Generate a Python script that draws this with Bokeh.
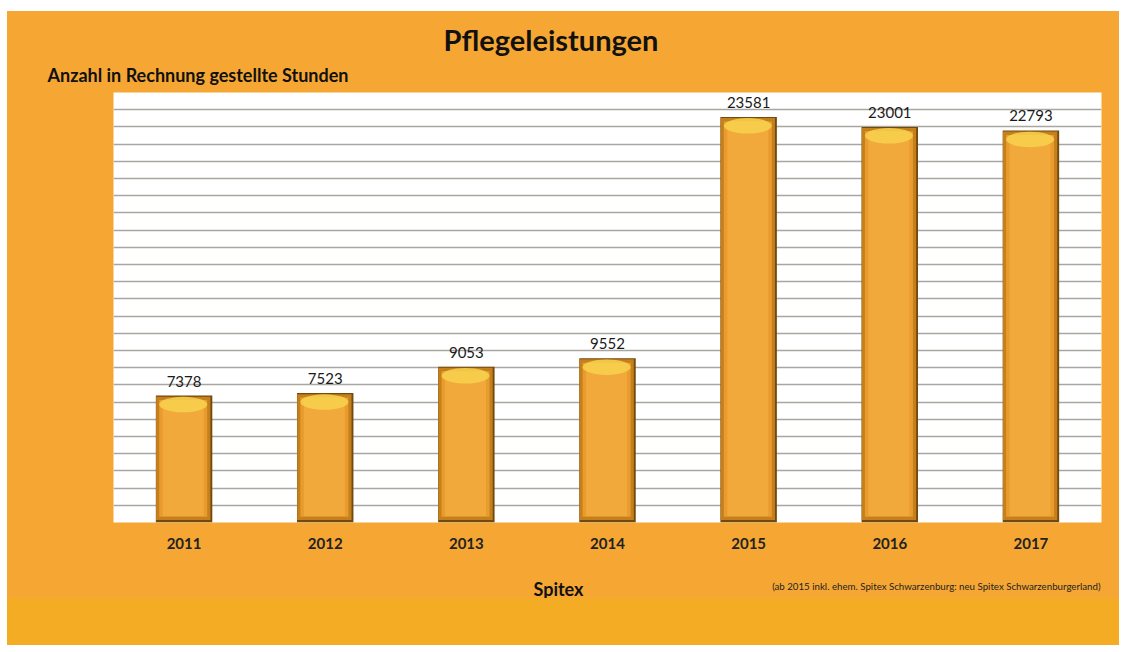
from bokeh.plotting import figure
from bokeh.models import ColumnDataSource, LabelSet, Range1d, FixedTicker, Title, Div
from bokeh.layouts import column
from bokeh.core.properties import value
from bokeh.embed import file_html
from bokeh.resources import INLINE

years = ["2011", "2012", "2013", "2014", "2015", "2016", "2017"]
hours = [7378, 7523, 9053, 9552, 23581, 23001, 22793]
title = "Pflegeleistungen"
subtitle = "Anzahl in Rechnung gestellte Stunden"
x_label = "Spitex"
footnote = "(ab 2015 inkl. ehem. Spitex Schwarzenburg: neu Spitex Schwarzenburgerland)"

FONT = "Lato"
BG = "#F6A733"
BAND = "#F3AC24"
W = 1112
LEFT, RIGHT = 106, 18

# ---- main chart
xs = list(range(len(years)))
src = ColumnDataSource(dict(
    x=xs,
    x_in=[i - 0.006 for i in xs],
    top=hours,
    label=[str(v) for v in hours],
    edge_top=[v - 60 for v in hours],
    body_top=[v - 260 for v in hours],
    hl_y=[v - 520 for v in hours],
))

p = figure(width=W, height=564, output_backend="svg", toolbar_location=None,
           title=title,
           x_range=Range1d(-0.5, len(years) - 0.5), y_range=Range1d(0, 25000),
           min_border_left=LEFT, min_border_right=RIGHT, min_border_top=81, min_border_bottom=53)
p.border_fill_color = BG
p.background_fill_color = "white"
p.outline_line_color = None

p.title.align = "left"
p.title.offset = 330
p.title.text_font = FONT
p.title.text_font_size = "29px"
p.title.text_font_style = "bold"
p.title.text_color = "#111111"
p.title.standoff = -4

sub_title = Title(text=subtitle, align="left", offset=-66, text_font=FONT, text_font_size="18px",
                  text_font_style="bold", text_color="#111111", standoff=14)
p.add_layout(sub_title, "above")

p.yaxis.visible = False
p.ygrid.ticker = FixedTicker(ticks=list(range(0, 25001, 1000)))
p.ygrid.grid_line_color = "#A9A6A2"
p.ygrid.grid_line_width = 1.6
p.xgrid.grid_line_color = None

p.xaxis.ticker = FixedTicker(ticks=xs)
p.xaxis.major_label_overrides = {i: y for i, y in zip(xs, years)}
p.xaxis.axis_line_color = None
p.xaxis.major_tick_line_color = None
p.xaxis.minor_tick_line_color = None
p.xaxis.major_label_text_font = FONT
p.xaxis.major_label_text_font_size = "15px"
p.xaxis.major_label_text_font_style = "bold"
p.xaxis.major_label_text_color = "#222222"
p.xaxis.major_label_standoff = 9

# layered bars for a bevelled look
p.vbar(x="x", top="top", bottom=0, width=0.40, source=src, fill_color="#74490E", line_color=None)
p.vbar(x="x_in", top="edge_top", bottom=140, width=0.385, source=src, fill_color="#C4801C", line_color=None)
p.vbar(x="x_in", top="body_top", bottom=330, width=0.34, source=src, fill_color="#E99C2D", line_color=None)
p.vbar(x="x_in", top="body_top", bottom=380, width=0.29, source=src, fill_color="#F2A93B", line_color=None)
p.ellipse(x="x_in", y="hl_y", width=0.34, height=900, source=src, fill_color="#F8D24E",
          line_color=None, fill_alpha=0.85)

labels = LabelSet(x="x", y="top", text="label", source=src, y_offset=9,
                  text_align="center", text_baseline="bottom",
                  text_font=value(FONT), text_font_size=value("15px"), text_color="#1a1a1a")
p.add_layout(labels)

# ---- footer line with axis title and footnote (frame aligned with main chart)
foot = figure(width=W, height=23, output_backend="svg", toolbar_location=None,
              x_range=Range1d(LEFT, W - RIGHT), y_range=Range1d(23, 0),
              x_axis_type=None, y_axis_type=None,
              min_border_left=LEFT, min_border_right=RIGHT, min_border_top=0, min_border_bottom=0)
foot.border_fill_alpha = 0
foot.background_fill_alpha = 0
foot.outline_line_color = None
foot.grid.visible = False
foot.text(x=[551], y=[13], text=[x_label], text_font=value(FONT), text_font_size="18px",
          text_font_style="bold", text_align="center", text_baseline="middle", text_color="#111111")
foot.text(x=[W - RIGHT - 1], y=[10], text=[footnote], text_font=value(FONT), text_font_size="9.7px",
          text_align="right", text_baseline="middle", text_color="#222222")

band = Div(text="", width=W, height=47, styles={"background-color": BAND, "margin": "0"})

layout = column(p, foot, band, spacing=0, margin=(11, 0, 0, 7),
                styles={"background-color": BG})
open("out.html", "w").write(file_html(layout, INLINE))
